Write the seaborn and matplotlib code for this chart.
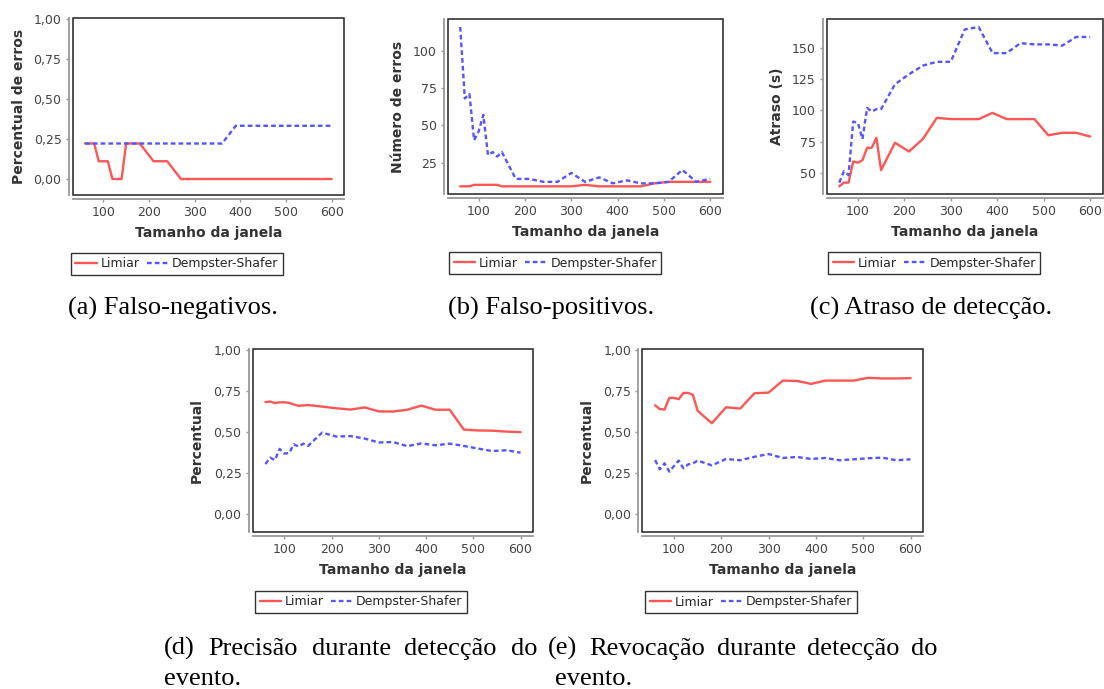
import pandas as pd
import matplotlib
matplotlib.use("Agg")
import matplotlib.pyplot as plt
import seaborn as sns
from matplotlib.patches import Rectangle
from matplotlib.ticker import FuncFormatter

# tamanhos de janela avaliados
janela = [60, 70, 80, 90, 100, 110, 120, 130, 140, 150, 180, 210, 240, 270,
          300, 330, 360, 390, 420, 450, 480, 510, 540, 570, 600]
metodos = ["Limiar", "Dempster-Shafer"]

# (a) falso-negativos
fn_limiar = [0.222, 0.222, 0.222, 0.111, 0.111, 0.111, 0.0, 0.0, 0.0, 0.222, 0.222, 0.111, 0.111,
             0.0, 0.0, 0.0, 0.0, 0.0, 0.0, 0.0, 0.0, 0.0, 0.0, 0.0, 0.0]
fn_ds = [0.222, 0.222, 0.222, 0.222, 0.222, 0.222, 0.222, 0.222, 0.222, 0.222, 0.222, 0.222, 0.222,
         0.222, 0.222, 0.222, 0.222, 0.333, 0.333, 0.333, 0.333, 0.333, 0.333, 0.333, 0.333]

# (b) falso-positivos
fp_limiar = [9, 9, 9, 10, 10, 10, 10, 10, 10, 9, 9, 9, 9, 9, 9, 10, 9, 9, 9, 9, 11, 12, 12, 12, 12]
fp_ds = [116, 68, 71, 40, 46, 57, 30, 32, 29, 32, 14, 14, 12, 12, 18, 12, 15, 11, 13, 11, 11, 12, 20, 12, 14]

# (c) atraso de deteccao
at_limiar = [39, 42, 42, 59, 58, 60, 70, 70, 78, 52, 74, 67, 77, 94, 93, 93, 93, 98, 93, 93, 93, 80, 82, 82, 79]
at_ds = [42, 51, 48, 91, 90, 77, 102, 99, 101, 101, 121, 129, 136, 139, 139, 165, 167, 146, 146, 154,
         153, 153, 152, 159, 159]

# (d) precisao
pr_limiar = [0.682, 0.686, 0.676, 0.681, 0.681, 0.678, 0.668, 0.660, 0.662, 0.665, 0.655, 0.645, 0.637,
             0.650, 0.626, 0.625, 0.636, 0.661, 0.636, 0.636, 0.515, 0.510, 0.509, 0.503, 0.500]
pr_ds = [0.306, 0.345, 0.330, 0.398, 0.370, 0.372, 0.426, 0.412, 0.430, 0.416, 0.497, 0.473, 0.476,
         0.461, 0.437, 0.440, 0.415, 0.431, 0.420, 0.430, 0.416, 0.400, 0.385, 0.390, 0.375]

# (e) revocacao
rv_limiar = [0.663, 0.640, 0.637, 0.708, 0.708, 0.700, 0.738, 0.738, 0.726, 0.630, 0.554, 0.651, 0.643,
             0.736, 0.740, 0.813, 0.811, 0.793, 0.813, 0.813, 0.813, 0.830, 0.826, 0.826, 0.828]
rv_ds = [0.330, 0.274, 0.310, 0.260, 0.294, 0.327, 0.280, 0.304, 0.310, 0.327, 0.298, 0.337, 0.329,
         0.350, 0.367, 0.343, 0.349, 0.337, 0.343, 0.329, 0.335, 0.341, 0.345, 0.329, 0.335]

W, H = 1104, 689
cores = {"Limiar": "#ff5555", "Dempster-Shafer": "#5555ff"}
tracos = {"Limiar": "", "Dempster-Shafer": (2, 1.3)}

sns.set_theme(style="ticks")
plt.rcParams["font.family"] = ["DejaVu Sans"]

fig = plt.figure(figsize=(W / 100, H / 100), dpi=100)


def fmt_virgula(v, p):
    return f"{v:.2f}".replace(".", ",")


def fmt_int(v, p):
    return f"{v:.0f}"


def painel(caixa, limiar, ds, ylabel, yticks, ylim, fmt, leg_xy, ylab_dx):
    l, t, r, b = caixa
    w, h = r - l, b - t
    ax = fig.add_axes([l / W, 1 - b / H, w / W, h / H])
    df = pd.DataFrame({
        "janela": janela * 2,
        "valor": limiar + ds,
        "metodo": [metodos[0]] * len(janela) + [metodos[1]] * len(janela),
    })
    sns.lineplot(data=df, x="janela", y="valor", hue="metodo", style="metodo",
                 palette=cores, dashes=tracos, linewidth=1.7, ax=ax)
    ax.set_xticks([100, 200, 300, 400, 500, 600])
    ax.set_yticks(yticks)
    if ylim is not None:
        ax.set_ylim(*ylim)
    ax.yaxis.set_major_formatter(FuncFormatter(fmt))

    for s in ["top", "right"]:
        ax.spines[s].set_visible(False)
    for s in ["left", "bottom"]:
        ax.spines[s].set_position(("outward", 3))
        ax.spines[s].set_color("#999999")
        ax.spines[s].set_linewidth(1.3)
    ax.add_patch(Rectangle((0, 0), 1, 1, transform=ax.transAxes, fill=False,
                           edgecolor="#222222", linewidth=1.1, clip_on=False, zorder=5))
    ax.tick_params(direction="out", length=2.5, width=1, color="#999999",
                   labelsize=9, labelcolor="#444444", pad=2.5)

    ax.set_xlabel("Tamanho da janela", fontsize=10, fontweight="bold", color="#333333")
    ax.xaxis.set_label_coords(0.5, -31 / h)
    ax.set_ylabel(ylabel, fontsize=10, fontweight="bold", color="#333333")
    ax.yaxis.set_label_coords(ylab_dx / w, 0.5)

    leg = ax.get_legend()
    handles = leg.legend_handles
    labels = [tx.get_text() for tx in leg.get_texts()]
    leg.remove()
    lg = fig.legend(handles, labels, loc="center",
                    bbox_to_anchor=(leg_xy[0] / W, 1 - leg_xy[1] / H),
                    ncol=2, frameon=True, fancybox=False, edgecolor="black",
                    fontsize=9, handlelength=1.7, handletextpad=0.3,
                    columnspacing=0.6, borderpad=0.35, borderaxespad=0)
    lg.get_frame().set_linewidth(1.0)
    for hd in lg.legend_handles:
        hd.set_linewidth(1.7)
    return ax


painel((72.7, 18.3, 344, 195), fn_limiar, fn_ds, "Percentual de erros",
       [0, 0.25, 0.5, 0.75, 1.0], (-0.1, 1.005), fmt_virgula, (176.7, 263.8), -47)
painel((447.7, 19, 722.7, 194.3), fp_limiar, fp_ds, "Número de erros",
       [25, 50, 75, 100], None, fmt_int, (555.2, 263.3), -43)
painel((826.7, 19, 1102.7, 194.3), at_limiar, at_ds, "Atraso (s)",
       [50, 75, 100, 125, 150], None, fmt_int, (934.2, 263.3), -43)
painel((252.7, 349, 533.3, 531.7), pr_limiar, pr_ds, "Percentual",
       [0, 0.25, 0.5, 0.75, 1.0], (-0.105, 1.005), fmt_virgula, (361, 601.8), -49)
painel((642.3, 349, 923.3, 531.7), rv_limiar, rv_ds, "Percentual",
       [0, 0.25, 0.5, 0.75, 1.0], (-0.105, 1.005), fmt_virgula, (751, 602), -49)

# legendas das subfiguras
fonte_leg = dict(fontsize=19, family=["Liberation Serif", "DejaVu Serif"], color="black")
fig.text(172.5 / W, 1 - 315 / H, "(a) Falso-negativos.", ha="center", va="baseline", **fonte_leg)
fig.text(551.5 / W, 1 - 315 / H, "(b) Falso-positivos.", ha="center", va="baseline", **fonte_leg)
fig.text(931.5 / W, 1 - 315 / H, "(c) Atraso de detecção.", ha="center", va="baseline", **fonte_leg)


def justificar(palavras, x0, x1, y):
    arts = [fig.text(0, 1 - y / H, p, va="baseline", **fonte_leg) for p in palavras]
    fig.canvas.draw()
    rend = fig.canvas.get_renderer()
    larg = [a.get_window_extent(rend).width for a in arts]
    gap = ((x1 - x0) - sum(larg)) / (len(palavras) - 1)
    x = x0
    for a, lw in zip(arts, larg):
        a.set_x(x / W)
        x += lw + gap


justificar(["(d)", "Precisão", "durante", "detecção", "do"], 164, 537, 655)
fig.text(164 / W, 1 - 685 / H, "evento.", va="baseline", **fonte_leg)
justificar(["(e)", "Revocação", "durante", "detecção", "do"], 548, 938, 655)
fig.text(555 / W, 1 - 685 / H, "evento.", va="baseline", **fonte_leg)

fig.savefig("out.png", dpi=100)
